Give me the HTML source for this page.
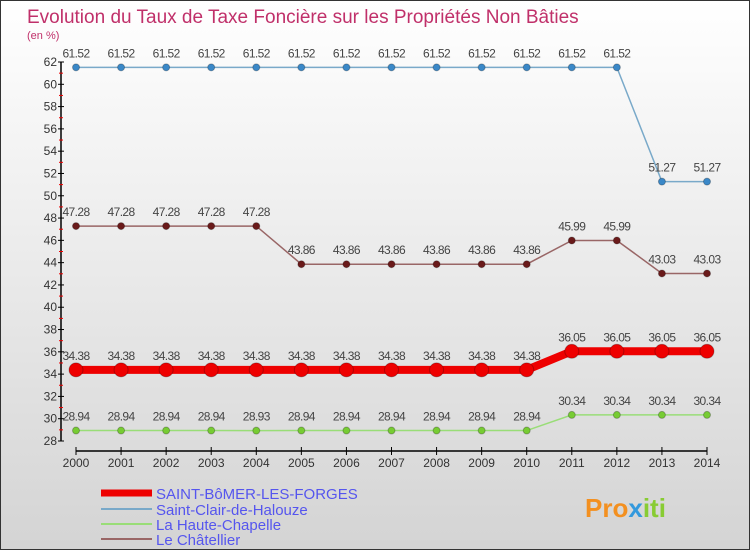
<!DOCTYPE html>
<html><head><meta charset="utf-8"><style>
body{margin:0;width:750px;height:550px;overflow:hidden;font-family:"Liberation Sans",sans-serif}
#c{position:relative;width:748px;height:548px;border:1px solid #333;background:linear-gradient(#fff,#d4d4d4)}
</style></head><body>
<div id="c">
<svg id="s" width="748" height="548" xmlns="http://www.w3.org/2000/svg">
<text x="26" y="22" font-size="19" fill="#c0306a">Evolution du Taux de Taxe Foncière sur les Propriétés Non Bâties</text>
<text x="26" y="38" font-size="11" fill="#c0306a">(en %)</text>
<g id="axes"></g><g id="series"></g>
<g>
<line x1="100" y1="492" x2="151" y2="492" stroke="#e00" stroke-width="7"/>
<text x="155" y="498" font-size="15" fill="#5555ee">SAINT-BôMER-LES-FORGES</text>
<line x1="100" y1="508" x2="151" y2="508" stroke="#79a9c9" stroke-width="2"/>
<text x="155" y="514" font-size="15" fill="#5555ee">Saint-Clair-de-Halouze</text>
<line x1="100" y1="523" x2="151" y2="523" stroke="#99dd77" stroke-width="2"/>
<text x="155" y="529" font-size="15" fill="#5555ee">La Haute-Chapelle</text>
<line x1="100" y1="538" x2="151" y2="538" stroke="#996666" stroke-width="2"/>
<text x="155" y="544" font-size="15" fill="#5555ee">Le Châtellier</text>
</g>
<text x="584" y="516" font-size="26" font-weight="bold" fill="#f39020">Pro<tspan fill="#3399dd">x</tspan><tspan fill="#88cc33">iti</tspan></text>
</svg></div>
<script>
const years=[2000,2001,2002,2003,2004,2005,2006,2007,2008,2009,2010,2011,2012,2013,2014];
const yTicks=[28,30,32,34,36,38,40,42,44,46,48,50,52,54,56,58,60,62];
const saintBomer=[34.38,34.38,34.38,34.38,34.38,34.38,34.38,34.38,34.38,34.38,34.38,36.05,36.05,36.05,36.05];
const saintClair=[61.52,61.52,61.52,61.52,61.52,61.52,61.52,61.52,61.52,61.52,61.52,61.52,61.52,51.27,51.27];
const hauteChapelle=[28.94,28.94,28.94,28.94,28.93,28.94,28.94,28.94,28.94,28.94,28.94,30.34,30.34,30.34,30.34];
const chatellier=[47.28,47.28,47.28,47.28,47.28,43.86,43.86,43.86,43.86,43.86,43.86,45.99,45.99,43.03,43.03];
const NS='http://www.w3.org/2000/svg';
const X=i=>75+i*(706-75)/(years.length-1);
const Y=v=>440-(v-28)*(440-61)/34;
function el(t,a,p){const e=document.createElementNS(NS,t);for(const k in a)e.setAttribute(k,a[k]);p.appendChild(e);return e;}
const ax=document.getElementById('axes');
const ya=el('line',{x1:60,y1:Y(62),x2:60,y2:Y(28),stroke:'#000','stroke-width':1.5},ax);


yTicks.forEach(v=>{
 el('line',{x1:57,x2:63,y1:Y(v),y2:Y(v),stroke:'#000'},ax);
 if(v<62)el('line',{x1:58,x2:62,y1:Y(v+1),y2:Y(v+1),stroke:'#e00'},ax);
 const t=el('text',{x:56,y:Y(v)+4,'font-size':12,'text-anchor':'end',fill:'#333'},ax);
 t.textContent=v;
 
 
});
const xa=el('line',{x1:X(0),x2:X(years.length-1),y1:450,y2:450,stroke:'#000','stroke-width':1.5},ax);


years.forEach((y,i)=>{
 el('line',{x1:X(i),x2:X(i),y1:446,y2:454,stroke:'#000'},ax);
 const t=el('text',{x:X(i),y:466,'font-size':12,'text-anchor':'middle',fill:'#333'},ax);
 t.textContent=y;
 
 
});
const sg=document.getElementById('series');
function series(vals,name,col,dot,w,r){
 const g=el('g',{},sg);
 
 
 const p=el('polyline',{points:vals.map((v,i)=>X(i)+','+Y(v)).join(' '),fill:'none',stroke:col,'stroke-width':w},g);
 
 
 vals.forEach((v,i)=>{
  const c=el('circle',{cx:X(i),cy:Y(v),r:r,fill:dot,stroke:'rgba(0,0,0,0.25)'},g);
  
  
  const t=el('text',{x:X(i),y:Y(v)-10,'font-size':12,'text-anchor':'middle',fill:'#444','letter-spacing':'-0.6'},g);
  t.textContent=String(v);
  
  
 });
}
series(saintClair,'saint-clair','#79a9c9','#3a88c8',1.5,3.5);
series(chatellier,'chatellier','#996666','#6a1a1a',1.5,3.5);
series(hauteChapelle,'haute-chapelle','#99dd77','#77cc33',1.5,3.5);
series(saintBomer,'saint-bomer','#e00','#e00',8,7);
</script>
</body></html>
